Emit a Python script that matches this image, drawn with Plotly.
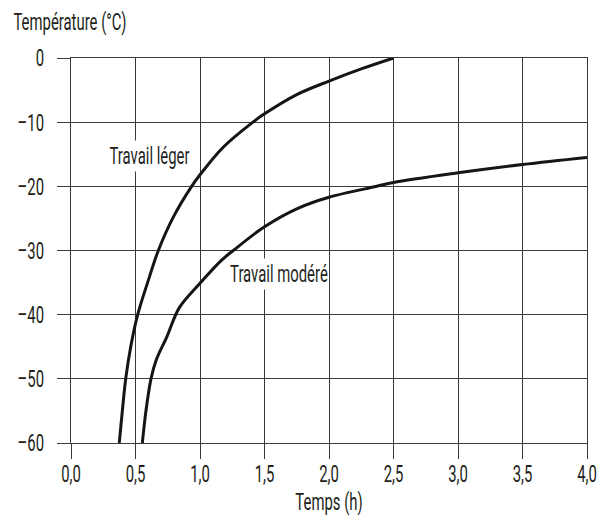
import plotly.graph_objects as go

# Travail léger
leger_t = [0.374, 0.398, 0.424, 0.463, 0.517, 0.605, 0.677, 0.793, 0.935, 1.0, 1.18, 1.41, 1.5, 1.75, 2.0, 2.25, 2.5]
leger_T = [-60, -55, -50, -45, -40, -34.3, -30, -24.8, -20, -18.2, -13.9, -10, -8.7, -5.7, -3.6, -1.7, 0]

# Travail modéré
modere_t = [0.553, 0.581, 0.62, 0.66, 0.742, 0.84, 1.0, 1.168, 1.258, 1.5, 1.75, 2.0, 2.37, 2.5, 3.0, 3.5, 4.0]
modere_T = [-60, -55, -50, -47.1, -43.5, -38.9, -35.1, -31.5, -30, -26.3, -23.5, -21.7, -20, -19.4, -17.9, -16.6, -15.5]

x_ticks = [0, 0.5, 1.0, 1.5, 2.0, 2.5, 3.0, 3.5, 4.0]
y_ticks = [0, -10, -20, -30, -40, -50, -60]
y_ticktext = [str(v).replace("-", "\u2013") for v in y_ticks]

FONT = "Roboto, sans-serif"
TXT = "#231f20"
GRID = "#3a3a3a"

fig = go.Figure()
for xs, ys in [(leger_t, leger_T), (modere_t, modere_T)]:
    fig.add_trace(go.Scatter(x=xs, y=ys, mode="lines",
                             line=dict(color="#151515", width=3, shape="spline", smoothing=1.0),
                             showlegend=False, hoverinfo="skip"))

fig.add_annotation(x=0.612, y=-15.3, text="Travail léger", showarrow=False, bgcolor="white",
                   font=dict(family=FONT, size=24, color=TXT), borderpad=1)
fig.add_annotation(x=1.614, y=-33.7, text="Travail modéré", showarrow=False, bgcolor="white",
                   font=dict(family=FONT, size=24, color=TXT), borderpad=1)
fig.add_annotation(x=0, xref="paper", xanchor="left", xshift=-59, y=1, yref="paper", yanchor="middle",
                   yshift=36, text="Température (°C)", showarrow=False,
                   font=dict(family=FONT, size=24, color=TXT))

fig.update_layout(
    width=599, height=520,
    margin=dict(l=71, r=12, t=58, b=77, autoexpand=False),
    plot_bgcolor="white", paper_bgcolor="white",
    separators=", ",
    font=dict(family=FONT, size=24, color=TXT),
    xaxis=dict(range=[0, 4], tickvals=x_ticks, tickformat=".1f", showgrid=True, gridcolor=GRID, gridwidth=1.3,
               showline=True, linecolor=GRID, linewidth=1.3, mirror=True, zeroline=False, automargin=False,
               ticks="outside", ticklen=15, tickwidth=1.3, tickcolor=GRID, ticklabelstandoff=-6,
               ticklabeloverflow="allow",
               title=dict(text="Temps (h)", font=dict(size=24), standoff=6)),
    yaxis=dict(range=[-60, 0], tickvals=y_ticks, ticktext=y_ticktext, showgrid=True, gridcolor=GRID,
               gridwidth=1.3, showline=True, linecolor=GRID, linewidth=1.3, mirror=True, zeroline=False,
               automargin=False, ticks="outside", ticklen=13, tickwidth=1.3, tickcolor=GRID,
               ticklabelstandoff=8, ticklabeloverflow="allow"),
)

# Condense text horizontally to mimic the narrow typeface of the original
post = """
var gd = document.getElementById('{plot_id}');
function squeeze(el, sx, mode){
  var bb = el.getBBox();
  var cx = mode==='start' ? bb.x : (mode==='end' ? bb.x+bb.width : bb.x+bb.width/2);
  var cy = bb.y + bb.height/2;
  var t = el.getAttribute('transform') || '';
  el.setAttribute('transform', t + ' translate('+cx+','+cy+') scale('+sx+',1) translate('+(-cx)+','+(-cy)+')');
}
var S = 0.62;
gd.querySelectorAll('g.xtick text').forEach(function(e){squeeze(e,S,'middle');});
gd.querySelectorAll('g.ytick text').forEach(function(e){squeeze(e,S,'end');});
gd.querySelectorAll('text.xtitle').forEach(function(e){squeeze(e,S,'middle');});
gd.querySelectorAll('g.annotation').forEach(function(g){
  var idx = g.getAttribute('data-index');
  var inner = g.querySelector('g.annotation-text-g');
  squeeze(inner, S, idx==='2' ? 'start' : 'middle');
});
"""

fig.write_html("out.html", post_script=post)
